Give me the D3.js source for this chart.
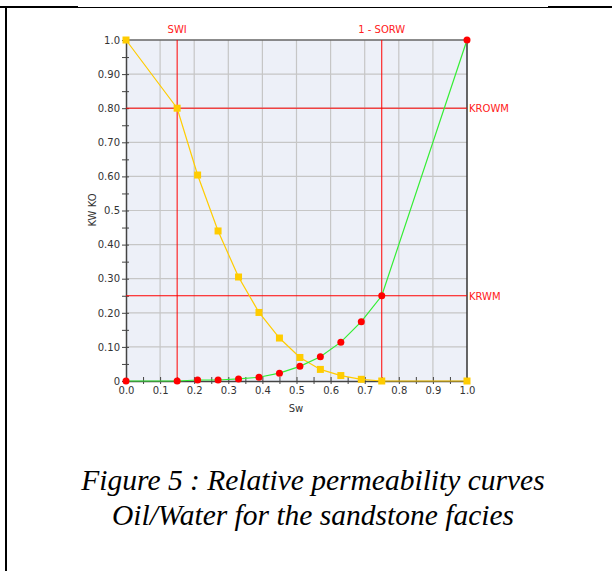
<!DOCTYPE html>
<html>
<head>
<meta charset="utf-8">
<script src="https://cdn.jsdelivr.net/npm/d3@7"></script>
<style>
  html, body { margin: 0; padding: 0; background: #fff; }
  svg { display: block; }
</style>
</head>
<body>
<svg id="fig" width="612" height="571"></svg>
<script>
// Water saturation sample points shared by both curves
const sw = [0, 0.15, 0.21, 0.27, 0.33, 0.39, 0.45, 0.51, 0.57, 0.63, 0.69, 0.75, 1.0];
// Oil relative permeability KO
const ko = [1.0, 0.80, 0.604, 0.44, 0.305, 0.201, 0.126, 0.069, 0.034, 0.016, 0.005, 0, 0];
// Water relative permeability KW
const kw = [0, 0, 0.003, 0.003, 0.006, 0.011, 0.023, 0.043, 0.071, 0.114, 0.174, 0.25, 1.0];

// End-point reference lines
const swi = 0.15, oneMinusSorw = 0.75, krowm = 0.80, krwm = 0.25;

const xTicks = [0, 0.1, 0.2, 0.3, 0.4, 0.5, 0.6, 0.7, 0.8, 0.9, 1.0];
const xTickLabels = ["0.0", "0.1", "0.2", "0.3", "0.4", "0.5", "0.6", "0.7", "0.8", "0.9", "1.0"];
const yTicks = [1.0, 0.9, 0.8, 0.7, 0.6, 0.5, 0.4, 0.3, 0.2, 0.1, 0];
const yTickLabels = ["1.0", "0.90", "0.80", "0.70", "0.60", "0.5", "0.40", "0.30", "0.20", "0.10", "0"];
const minorTicks = [0.05, 0.15, 0.25, 0.35, 0.45, 0.55, 0.65, 0.75, 0.85, 0.95];

const svg = d3.select("#fig");

// Page frame
svg.append("line").attr("x1", 0).attr("x2", 78).attr("y1", 7).attr("y2", 7).attr("stroke", "#000").attr("stroke-width", 2);
svg.append("line").attr("x1", 78).attr("x2", 548).attr("y1", 7.5).attr("y2", 7.5).attr("stroke", "#000").attr("stroke-width", 1);
svg.append("line").attr("x1", 548).attr("x2", 612).attr("y1", 7).attr("y2", 7).attr("stroke", "#000").attr("stroke-width", 2);
svg.append("line").attr("x1", 6).attr("x2", 6).attr("y1", 6).attr("y2", 571).attr("stroke", "#000").attr("stroke-width", 2);

const x = d3.scaleLinear().domain([0, 1]).range([126, 467]);
const y = d3.scaleLinear().domain([0, 1]).range([381, 40]);

const font = "DejaVu Sans, Verdana, sans-serif";

// Plot background
svg.append("rect")
  .attr("x", x(0)).attr("y", y(1))
  .attr("width", x(1) - x(0)).attr("height", y(0) - y(1))
  .attr("fill", "#edf0f8");

// Grid
const grid = svg.append("g").attr("stroke", "#c6c6c6").attr("stroke-width", 1.2);
grid.selectAll("line.v").data(xTicks.slice(1, -1)).join("line")
  .attr("x1", d => x(d)).attr("x2", d => x(d)).attr("y1", y(0)).attr("y2", y(1));
grid.selectAll("line.h").data(yTicks.slice(1, -1)).join("line")
  .attr("x1", x(0)).attr("x2", x(1)).attr("y1", d => y(d)).attr("y2", d => y(d));

// Plot border (top, right)
svg.append("line").attr("x1", x(0)).attr("x2", x(1)).attr("y1", y(1)).attr("y2", y(1)).attr("stroke", "#666").attr("stroke-width", 1.5);
svg.append("line").attr("x1", x(1)).attr("x2", x(1)).attr("y1", y(1)).attr("y2", y(0)).attr("stroke", "#333").attr("stroke-width", 1.5);

// Axes
function styleAxis(g) {
  g.select(".domain").attr("stroke", "#444").attr("stroke-width", 1.5);
  g.selectAll(".tick line").attr("stroke", "#444");
  g.selectAll(".tick text").attr("fill", "#333").style("font-family", font).style("font-size", "10px");
}

const yAxis = svg.append("g").attr("transform", `translate(${x(0)},0)`)
  .call(d3.axisLeft(y).tickValues(yTicks).tickFormat((d, i) => yTickLabels[i]).tickSize(4).tickPadding(2).tickSizeOuter(0));
yAxis.selectAll(".tick line").attr("x1", 3);
styleAxis(yAxis);
const yMinor = svg.append("g").attr("transform", `translate(${x(0)},0)`)
  .call(d3.axisLeft(y).tickValues(minorTicks).tickFormat("").tickSize(4).tickSizeOuter(0));
yMinor.select(".domain").remove();
yMinor.selectAll(".tick line").attr("x1", 3).attr("stroke", "#444");

const xAxis = svg.append("g").attr("transform", `translate(0,${y(0)})`)
  .call(d3.axisBottom(x).tickValues(xTicks).tickFormat((d, i) => xTickLabels[i]).tickSize(3).tickPadding(3).tickSizeOuter(0));
xAxis.selectAll(".tick line").attr("y1", -4);
styleAxis(xAxis);
const xMinor = svg.append("g").attr("transform", `translate(0,${y(0)})`)
  .call(d3.axisBottom(x).tickValues(minorTicks).tickFormat("").tickSize(3).tickSizeOuter(0));
xMinor.select(".domain").remove();
xMinor.selectAll(".tick line").attr("y1", -4).attr("stroke", "#444");

// Axis titles
svg.append("text").attr("x", 296).attr("y", 412).attr("text-anchor", "middle")
  .style("font-family", font).style("font-size", "10px").attr("fill", "#333").text("Sw");
svg.append("text").attr("transform", "translate(96,210) rotate(-90)").attr("text-anchor", "middle")
  .style("font-family", font).style("font-size", "10px").attr("fill", "#333").text("KW KO");

// Reference lines
const ref = svg.append("g").attr("stroke", "#ff0000").attr("stroke-width", 1);
[swi, oneMinusSorw].forEach(v => ref.append("line")
  .attr("x1", x(v)).attr("x2", x(v)).attr("y1", y(0)).attr("y2", y(1)));
[krowm, krwm].forEach(v => ref.append("line")
  .attr("x1", x(0)).attr("x2", x(1)).attr("y1", y(v)).attr("y2", y(v)));

const refText = svg.append("g").attr("fill", "#ff2020").style("font-family", font).style("font-size", "10px");
refText.append("text").attr("x", x(swi)).attr("y", y(1) - 7).attr("text-anchor", "middle").text("SWI");
refText.append("text").attr("x", x(oneMinusSorw)).attr("y", y(1) - 7).attr("text-anchor", "middle").text("1 - SORW");
refText.append("text").attr("x", x(1) + 2).attr("y", y(krowm) + 4).text("KROWM");
refText.append("text").attr("x", x(1) + 2).attr("y", y(krwm) + 4).text("KRWM");

// Curves
const oilPts = sw.map((s, i) => [s, ko[i]]);
const waterPts = sw.map((s, i) => [s, kw[i]]);
const line = d3.line().x(d => x(d[0])).y(d => y(d[1]));

svg.append("path").attr("d", line(oilPts)).attr("fill", "none").attr("stroke", "#ffcc00").attr("stroke-width", 1.2);
svg.append("path").attr("d", line(waterPts)).attr("fill", "none").attr("stroke", "#33ee33").attr("stroke-width", 1.2);

svg.append("g").selectAll("rect").data(oilPts).join("rect")
  .attr("x", d => x(d[0]) - 3.5).attr("y", d => y(d[1]) - 3.5)
  .attr("width", 7).attr("height", 7).attr("fill", "#ffcc00");
svg.append("g").selectAll("circle").data(waterPts).join("circle")
  .attr("cx", d => x(d[0])).attr("cy", d => y(d[1])).attr("r", 3.5).attr("fill", "#ff0000");

// Caption
const cap = svg.append("g").attr("text-anchor", "middle")
  .style("font-family", "Liberation Serif, Times New Roman, serif").style("font-style", "italic")
  .style("font-size", "29.5px").attr("fill", "#000");
cap.append("text").attr("x", 313).attr("y", 490).text("Figure 5 : Relative permeability curves");
cap.append("text").attr("x", 313).attr("y", 525).text("Oil/Water for the sandstone facies");
</script>
</body>
</html>
